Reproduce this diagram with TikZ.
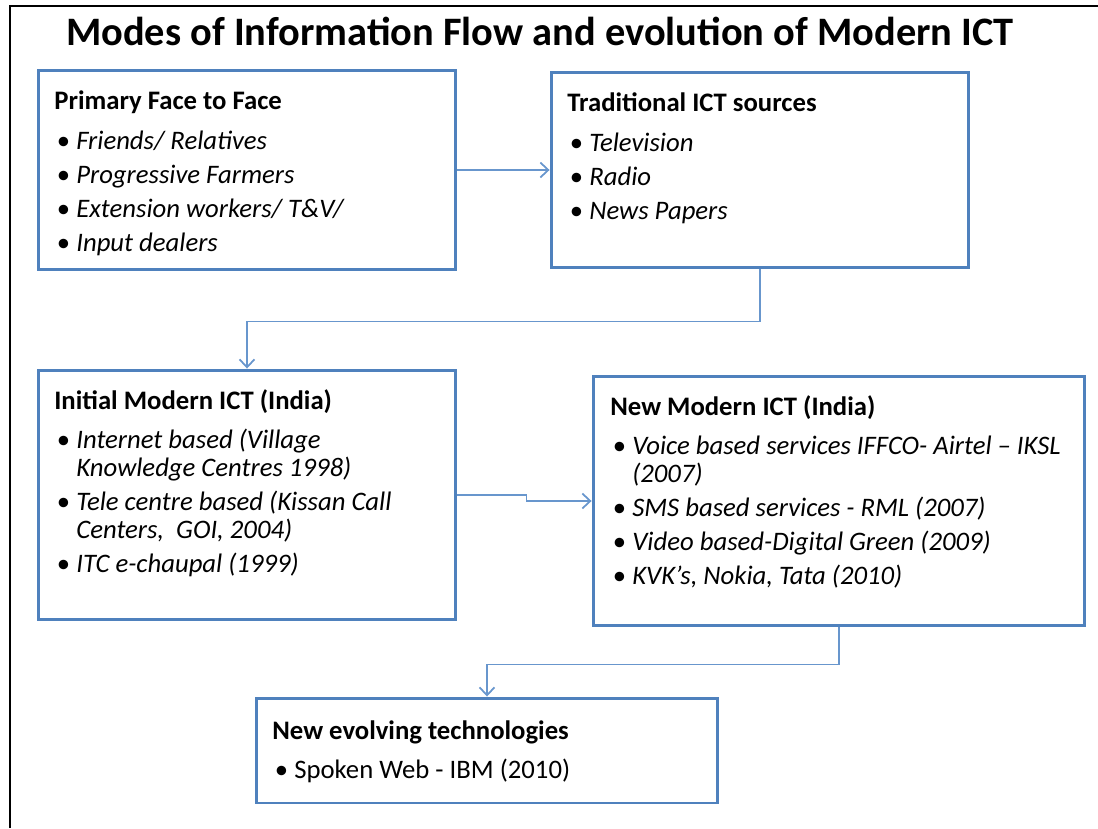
\documentclass[tikz,border=0pt]{standalone}
\usepackage{fontspec}
\setmainfont{Carlito}
\usepackage{tikz}
\usetikzlibrary{positioning,calc,arrows.meta}
\definecolor{boxblue}{RGB}{79,129,189}
\definecolor{linkblue}{RGB}{104,150,205}
\newcommand{\bul}{\makebox[12.5pt][l]{\hspace{1.5pt}\textbullet}}

\begin{document}
\begin{tikzpicture}[x=0.02cm,y=-0.02cm,
    box/.style={draw=boxblue,line width=1.7pt,inner sep=0pt},
    boxtext/.style={anchor=base west,inner sep=0pt,font=\fontsize{15.2}{15.9}\selectfont},
    link/.style={draw=linkblue,line width=1pt,-{Straight Barb[length=4.5pt,width=8.5pt]}}]
          \useasboundingbox (0,0) rectangle (1098,828);
          \draw[line width=1.7pt] (10,828)--(10,6)--(1098,6);
          \node[anchor=base,inner sep=0pt,font=\fontsize{23}{28}\selectfont\bfseries] (title) at (540,46) {Modes of Information Flow and evolution of Modern ICT};
          % boxes
          \node[box,minimum width=8.36cm,minimum height=4cm] (prim) at (247,170) {};
          \node[box,minimum width=8.36cm,minimum height=3.92cm] (trad) at (760,170) {};
          \node[box,minimum width=8.36cm,minimum height=5cm] (init) at (247,495) {};
          \node[box,minimum width=9.84cm,minimum height=5cm] (newmod) at (839,501) {};
          \node[box,minimum width=9.24cm,minimum height=2.1cm] (evol) at (487,750.5) {};
          % texts
          \node[boxtext] (primtext) at (54,110) {\begin{tabular}[t]{@{}l@{}l@{}}
            \multicolumn{2}{@{}l@{}}{\textbf{Primary Face to Face}}\\[6.8pt]
            \bul & \textit{Friends/ Relatives}\\[3.4pt]
            \bul & \textit{Progressive Farmers}\\[3.4pt]
            \bul & \textit{Extension workers/ T\&V/}\\[3.4pt]
            \bul & \textit{Input dealers}
          \end{tabular}};
          \node[boxtext] (tradtext) at (567,112) {\begin{tabular}[t]{@{}l@{}l@{}}
            \multicolumn{2}{@{}l@{}}{\textbf{Traditional ICT sources}}\\[6.8pt]
            \bul & \textit{Television}\\[3.4pt]
            \bul & \textit{Radio}\\[3.4pt]
            \bul & \textit{News Papers}
          \end{tabular}};
          \node[boxtext] (inittext) at (54,409) {\begin{tabular}[t]{@{}l@{}l@{}}
            \multicolumn{2}{@{}l@{}}{\textbf{Initial Modern ICT (India)}}\\[6.8pt]
            \bul & \textit{Internet based (Village}\\
                 & \textit{Knowledge Centres 1998)}\\[3.4pt]
            \bul & \textit{Tele centre based (Kissan Call}\\
                 & \textit{Centers,\ \ GOI, 2004)}\\[3.4pt]
            \bul & \textit{ITC e-chaupal (1999)}
          \end{tabular}};
          \node[boxtext] (newmodtext) at (610,415) {\begin{tabular}[t]{@{}l@{}l@{}}
            \multicolumn{2}{@{}l@{}}{\textbf{New Modern ICT (India)}}\\[6.8pt]
            \bul & \textit{Voice based services IFFCO- Airtel – IKSL}\\
                 & \textit{(2007)}\\[3.4pt]
            \bul & \textit{SMS based services - RML (2007)}\\[3.4pt]
            \bul & \textit{Video based-Digital Green (2009)}\\[3.4pt]
            \bul & \textit{KVK’s, Nokia, Tata (2010)}
          \end{tabular}};
          \node[boxtext] (evoltext) at (272,739) {\begin{tabular}[t]{@{}l@{}l@{}}
            \multicolumn{2}{@{}l@{}}{\textbf{New evolving technologies}}\\[6.8pt]
            \bul & Spoken Web - IBM (2010)
          \end{tabular}};
          % connectors
          \draw[link] (prim)--(trad);
          \draw[link] (trad.south)--++(0,52)-|(init.north);
          \draw[link] (init.east)--++(69,0)|-(newmod.west);
          \draw[link] (newmod.south)--++(0,37)-|(evol.north);
        \end{tikzpicture}
\end{document}
